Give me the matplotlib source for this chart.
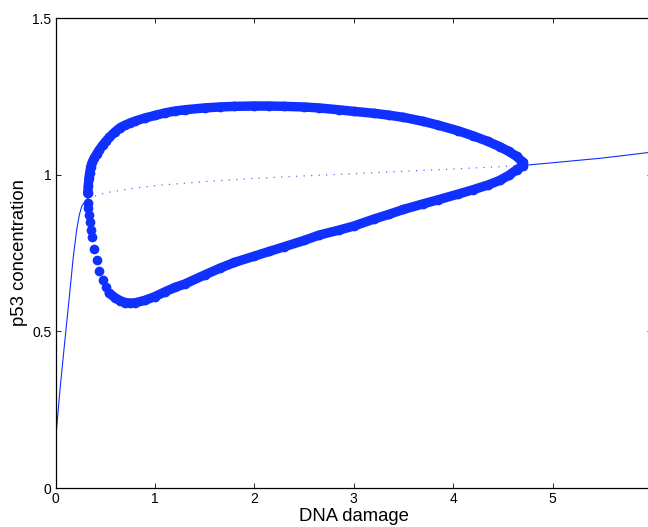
import matplotlib
matplotlib.use("Agg")
import matplotlib.pyplot as plt

plt.rcParams['font.family'] = ['Liberation Sans', 'DejaVu Sans']

# stable steady state, low branch (before the first Hopf point)
low_x = [0.0, 0.045, 0.078, 0.112, 0.146, 0.179, 0.213, 0.239, 0.263, 0.296, 0.324]
low_y = [0.15, 0.313, 0.419, 0.526, 0.632, 0.738, 0.824, 0.871, 0.898, 0.914, 0.925]

# unstable steady state between the two Hopf points
uns_x = [0.324, 0.5, 0.75, 1.0, 1.5, 2.0, 2.5, 3.0, 3.5, 4.0, 4.5, 4.72]
uns_y = [0.925, 0.942, 0.955, 0.965, 0.978, 0.988, 0.996, 1.003, 1.011, 1.018, 1.026, 1.030]

# stable steady state, high branch
high_x = [4.72, 5.0, 5.5, 6.0]
high_y = [1.030, 1.038, 1.053, 1.072]

# limit cycle: parameter, max and min of p53
cyc_x = [0.324, 0.330, 0.337, 0.344, 0.354, 0.370, 0.390, 0.414, 0.440, 0.474,
         0.508, 0.541, 0.60, 0.65, 0.70, 0.75, 0.80, 0.90, 1.0, 1.1,
         1.2, 1.3, 1.5, 1.65, 1.8, 2.0, 2.15, 2.3, 2.5, 2.65,
         2.85, 3.0, 3.2, 3.35, 3.5, 3.7, 3.85, 4.05, 4.2, 4.35,
         4.47, 4.56, 4.64, 4.70]
cyc_max = [0.94, 0.965, 0.99, 1.005, 1.025, 1.04, 1.053, 1.066, 1.079, 1.094,
           1.107, 1.119, 1.137, 1.150, 1.158, 1.165, 1.171, 1.181, 1.189, 1.197,
           1.203, 1.207, 1.213, 1.216, 1.218, 1.219, 1.219, 1.218, 1.216, 1.213,
           1.207, 1.202, 1.196, 1.190, 1.183, 1.170, 1.158, 1.140, 1.124, 1.106,
           1.089, 1.074, 1.058, 1.040]
cyc_min = [0.91, 0.893, 0.872, 0.850, 0.823, 0.800, 0.764, 0.728, 0.694, 0.664,
           0.641, 0.622, 0.607, 0.598, 0.592, 0.590, 0.591, 0.599, 0.611, 0.626,
           0.640, 0.651, 0.680, 0.701, 0.720, 0.740, 0.755, 0.770, 0.790, 0.807,
           0.823, 0.836, 0.858, 0.873, 0.889, 0.907, 0.920, 0.938, 0.952, 0.967,
           0.982, 0.998, 1.016, 1.028]

xticks = [0, 1, 2, 3, 4, 5, 6]
yticks = [0, 0.5, 1, 1.5]
ytick_labels = ['0', '0.5', '1', '1.5']

blue = '#1030ff'
dense = 11  # from here on the dots of the lower branch overlap

fig = plt.figure(figsize=(6.48, 5.27), dpi=100)
ax = fig.add_axes([55.5 / 648, 1 - 488 / 527, 596.5 / 648, 470 / 527])

ax.plot(low_x, low_y, '-', color=blue, lw=0.8)
ax.plot(uns_x, uns_y, linestyle=(0, (1, 5)), color=blue, lw=0.9, alpha=0.7)
ax.plot(high_x, high_y, '-', color=blue, lw=0.8)

# cycle: band where the dots overlap, then the dots themselves
band_x = cyc_x + cyc_x[dense:][::-1]
band_y = cyc_max + cyc_min[dense:][::-1]
ax.plot(band_x, band_y, '-', color=blue, lw=6.8, solid_capstyle='round',
        solid_joinstyle='round')
ax.plot(cyc_x, cyc_max, 'o', color=blue, ms=7.0, mec='none')
ax.plot(cyc_x, cyc_min, 'o', color=blue, ms=7.0, mec='none')

ax.set_xlim(0, 6)
ax.set_ylim(0, 1.5)
ax.set_xticks(xticks)
ax.set_yticks(yticks)
ax.set_yticklabels(ytick_labels)
ax.tick_params(direction='in', top=True, right=True, length=3.6, width=0.6,
               labelsize=10, pad=3)
for s in ax.spines.values():
    s.set_linewidth(0.9)

ax.set_xlabel('DNA damage', fontsize=13.3, labelpad=1)
ax.set_ylabel('p53 concentration', fontsize=13.3, labelpad=3)

fig.savefig('out.png', dpi=100)
